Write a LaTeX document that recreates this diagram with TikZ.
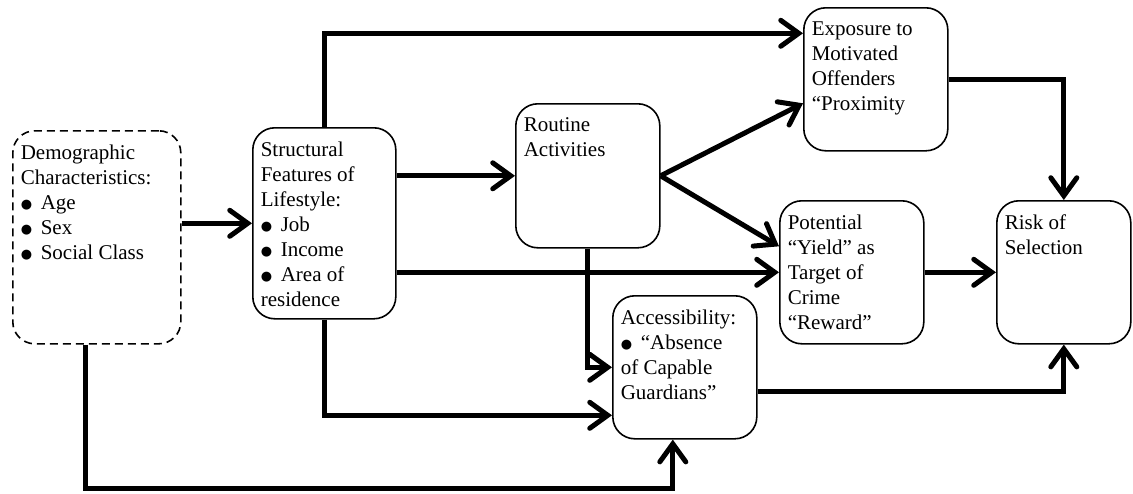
\documentclass[tikz,border=0pt]{standalone}
\usepackage{fontspec}
\setmainfont{Liberation Serif}
\newfontfamily\dotfont{DejaVu Sans}
\usetikzlibrary{arrows.meta,positioning}

\newcommand{\boxtext}[3]{\begin{minipage}[t][#2][t]{#1}#3\end{minipage}}
\newcommand{\itm}[1]{\makebox[10pt][l]{\raisebox{0.6pt}{\dotfont\fontsize{6.5}{6.5}\selectfont ●}}#1}

\begin{document}
\begin{tikzpicture}[x=0.5pt,y=-0.5pt,
  box/.style={draw,line width=0.8pt,rounded corners=11pt,anchor=north west,
    inner xsep=4pt,inner ysep=7pt,font={\fontsize{10.5}{12.5}\selectfont}},
  link/.style={line width=2.5pt,-{Straight Barb[length=9pt,width=13pt,line cap=round]}}]
  \useasboundingbox (0,0) rectangle (1133,493);

  % Cajas
  \node[box,dash pattern=on 4pt off 2.5pt] (demo) at (12,130)
    {\boxtext{76pt}{92.5pt}{Demographic\\Characteristics:\\\itm{Age}\\\itm{Sex}\\\itm{Social Class}}};
  \node[box] (struct) at (252,127)
    {\boxtext{63.5pt}{81.5pt}{Structural\\Features of\\Lifestyle:\\\itm{Job}\\\itm{Income}\\\itm{Area of}\\residence}};
  \node[box] (routine) at (515,103)
    {\boxtext{64pt}{58pt}{Routine\\Activities}};
  \node[box] (expo) at (803,7)
    {\boxtext{64pt}{57.5pt}{Exposure to\\Motivated\\Offenders\\“Proximity}};
  \node[box] (potential) at (779,200)
    {\boxtext{64pt}{57.5pt}{Potential\\“Yield” as\\Target of\\Crime\\“Reward”}};
  \node[box] (access) at (612,295)
    {\boxtext{64pt}{57.5pt}{Accessibility:\\\itm{“Absence}\\of Capable\\Guardians”}};
  \node[box] (risk) at (996,200)
    {\boxtext{59pt}{57.5pt}{Risk of\\Selection}};

  % Flechas
  \draw[link] (struct.west -| demo.east) -- (struct.west);
  \draw[link] (struct.north) |- ([yshift=23pt]expo.west);
  \draw[link] (routine.west -| struct.east) -- (routine.west);
  \draw[link] (potential.west -| struct.east) -- (potential.west);
  \draw[link] (routine.east) -- ([yshift=-12pt]expo.west);
  \draw[link] (routine.east) -- ([yshift=13pt]potential.west);
  \draw[link] (routine.south) |- (access.west);
  \draw[link] (struct.south) |- ([yshift=-24pt]access.west);
  \draw[link] ([xshift=-5.5pt]demo.south) -- ++(0,-72pt) -| ([xshift=-6pt]access.south);
  \draw[link] (expo.east) -| (risk.north);
  \draw[link] (potential.east) -- (risk.west);
  \draw[link] ([yshift=-12pt]access.east) -| (risk.south);
\end{tikzpicture}
\end{document}
